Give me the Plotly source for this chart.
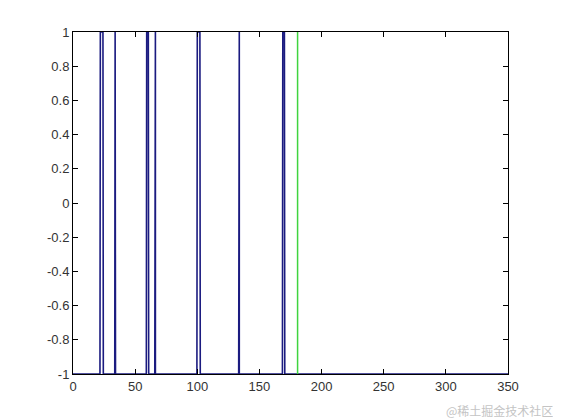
import plotly.graph_objects as go

# pulse edges (x units)
pulse_rise = [21.7, 33.6, 59.0, 65.8, 99.7, 133.3, 168.5]
pulse_fall = [24.4, 34.2, 60.9, 66.3, 102.4, 133.8, 170.4]
marker_x = 180.7

x_ticks = [0, 50, 100, 150, 200, 250, 300, 350]
y_ticks = [-1, -0.8, -0.6, -0.4, -0.2, 0, 0.2, 0.4, 0.6, 0.8, 1]
y_labels = ["-1", "-0.8", "-0.6", "-0.4", "-0.2", "0", "0.2", "0.4", "0.6", "0.8", "1"]

# build square-pulse trace from the edges
xs = [0]
ys = [-1]
for r, f in zip(pulse_rise, pulse_fall):
    xs += [r, r + 0.3, f - 0.3 if f - r > 0.6 else f, f]
    ys += [-1, 1, 1, -1]
xs.append(350)
ys.append(-1)

fig = go.Figure()

fig.add_trace(go.Scatter(
    x=xs, y=ys, mode="lines",
    line=dict(color="#1b1b80", width=1.6),
    showlegend=False
))

fig.add_trace(go.Scatter(
    x=[marker_x, marker_x], y=[-1, 1], mode="lines",
    line=dict(color="#3fd43f", width=1.5),
    showlegend=False
))

axis_common = dict(
    showline=True, linecolor="black", linewidth=1, mirror="ticks",
    ticks="inside", ticklen=5, tickcolor="black",
    showgrid=False, zeroline=False,
    tickfont=dict(family="Liberation Sans, Arial", size=13, color="#333333")
)

fig.update_xaxes(range=[0, 350], tickvals=x_ticks, **axis_common)
fig.update_yaxes(range=[-1, 1], tickvals=y_ticks, ticktext=y_labels, **axis_common)

fig.add_annotation(
    text="@稀土掘金技术社区", xref="paper", yref="paper",
    x=1.108, y=-0.076, xanchor="right", yanchor="top", showarrow=False,
    font=dict(family="Noto Sans CJK SC", size=12, color="#c4c4c4")
)

fig.update_layout(
    width=553, height=412,
    margin=dict(l=65, r=53, t=24, b=46),
    paper_bgcolor="white",
    plot_bgcolor="white"
)

fig.write_html("out.html")
